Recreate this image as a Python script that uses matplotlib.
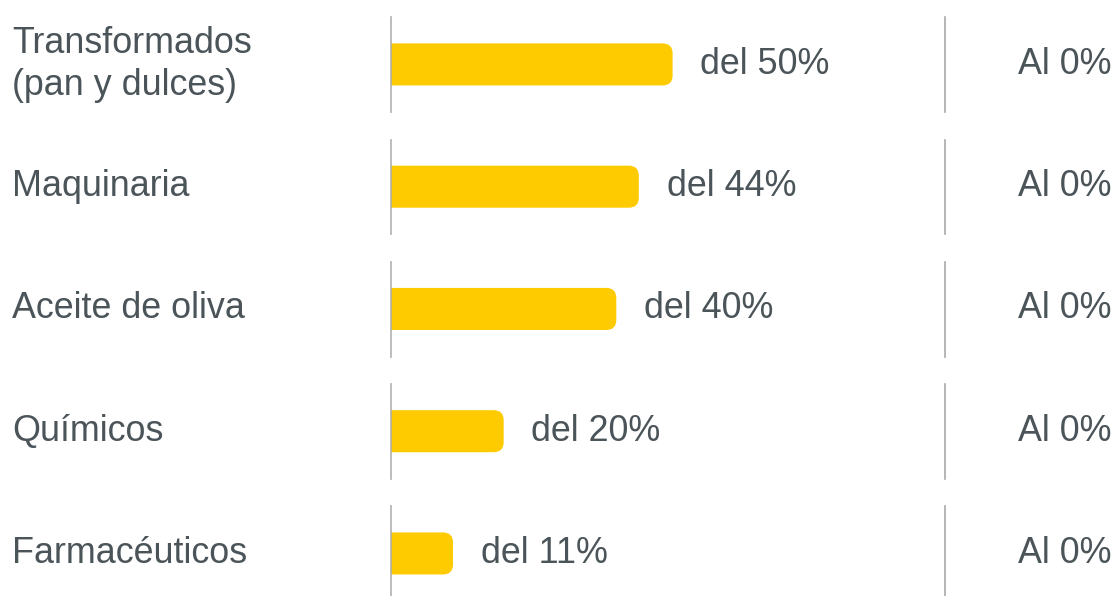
import matplotlib.pyplot as plt
from matplotlib.patches import PathPatch
from matplotlib.path import Path
import matplotlib.transforms as mtransforms

categories = ["Transformados\n(pan y dulces)", "Maquinaria", "Aceite de oliva",
              "Químicos", "Farmacéuticos"]
values = [50, 44, 40, 20, 11]
left_labels = ["del 50%", "del 44%", "del 40%", "del 20%", "del 11%"]
right_labels = ["Al 0%", "Al 0%", "Al 0%", "Al 0%", "Al 0%"]

bar_color = "#fecb00"
text_color = "#4b5459"
line_color = "#a9a9a9"
font = "Liberation Sans"
fs = 25.8

fig = plt.figure(figsize=(11.18, 5.96), dpi=100)
ax = fig.add_axes([0, 0, 1, 1])
ax.set_xlim(-69.45, 129.1)
ax.set_ylim(4.348, -0.527)
ax.axis("off")

ys = list(range(len(values)))
h = 0.344
bars = ax.barh(ys, values, height=h, color=bar_color, zorder=2)

# round only the right end of each bar (radius ~10 px)
rx = 10 / 5.63
ry = 10 / 122.25
for b in bars:
    x0, y0, w, hh = b.get_x(), b.get_y(), b.get_width(), b.get_height()
    x1, y1 = x0 + w, y0 + hh
    b.set_visible(False)
    verts = [(x0, y0), (x1 - rx, y0), (x1, y0), (x1, y0 + ry), (x1, y1 - ry),
             (x1, y1), (x1 - rx, y1), (x0, y1), (x0, y0)]
    codes = [Path.MOVETO, Path.LINETO, Path.CURVE3, Path.CURVE3, Path.LINETO,
             Path.CURVE3, Path.CURVE3, Path.LINETO, Path.CLOSEPOLY]
    ax.add_patch(PathPatch(Path(verts, codes), fc=bar_color, ec="none", zorder=2))

# divider lines
for y in ys:
    ax.plot([0, 0], [y - 0.385, y + 0.39], color=line_color, lw=1.2, zorder=3, alpha=0.9)
    ax.plot([98.4, 98.4], [y - 0.385, y + 0.39], color=line_color, lw=1.2, zorder=3)

tr = mtransforms.blended_transform_factory(ax.transAxes, ax.transData)
for y, cat, v, lab, rl in zip(ys, categories, values, left_labels, right_labels):
    ax.text(12 / 1118, y, cat, transform=tr, ha="left", va="center",
            fontsize=fs, color=text_color, family=font, linespacing=1.25)
    ax.annotate(lab, (v, y), xytext=(20, 0), textcoords="offset points",
                ha="left", va="center", fontsize=fs, color=text_color, family=font)
    ax.text(1112 / 1118, y, rl, transform=tr, ha="right", va="center",
            fontsize=fs, color=text_color, family=font)

fig.savefig("out.png", dpi=100)
